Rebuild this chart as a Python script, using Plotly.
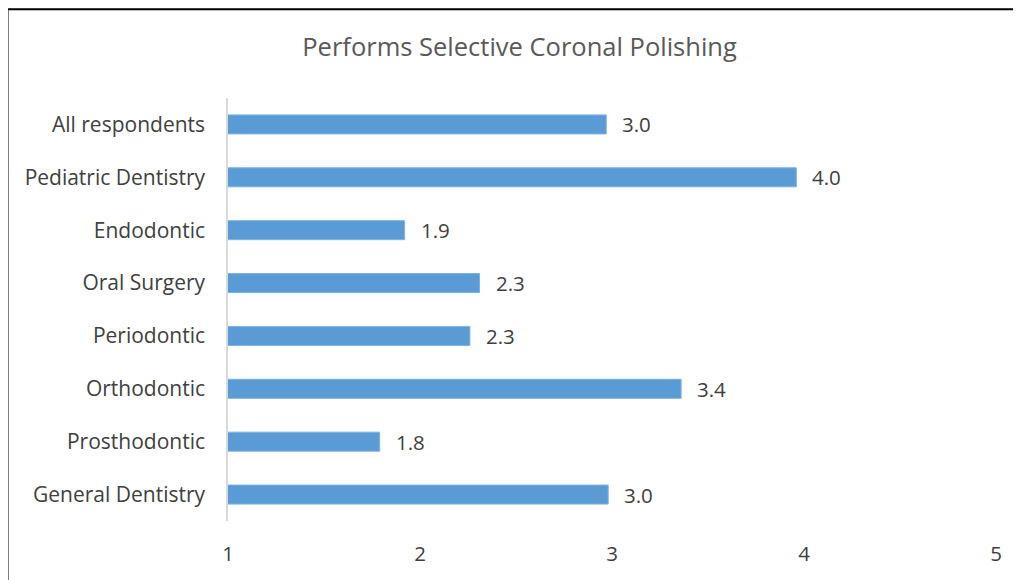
import plotly.graph_objects as go

categories = ["All respondents", "Pediatric Dentistry", "Endodontic", "Oral Surgery",
              "Periodontic", "Orthodontic", "Prosthodontic", "General Dentistry"]
values = [2.97, 3.96, 1.92, 2.31, 2.26, 3.36, 1.79, 2.98]
labels = ["3.0", "4.0", "1.9", "2.3", "2.3", "3.4", "1.8", "3.0"]
x_ticks = [1, 2, 3, 4, 5]
title = "Performs Selective Coronal Polishing"

FONT = "Open Sans, Lato, Liberation Sans, sans-serif"
W, H = 1021, 580
# page body has an 8px margin, so the figure is laid out 8px up/left
L, T = 220, 89.5
pw, ph = 768, 424
R, B = W - L - pw, H - T - ph

fig = go.Figure()
fig.add_trace(go.Bar(
    x=values, y=categories, orientation="h",
    marker=dict(color="#5B9BD5", line=dict(color="#7FB2E0", width=1)),
    hoverinfo="x+y",
))

for c, v, t in zip(categories, values, labels):
    fig.add_annotation(x=v, y=c, text=t, showarrow=False, xanchor="left",
                       xshift=14, font=dict(family=FONT, size=20.5, color="#404040"))

def px_x(p):
    return (p - L) / pw

def px_y(p):
    return (H - B - p) / ph

fig.add_shape(type="rect", xref="paper", yref="paper",
              x0=px_x(-0.5), x1=px_x(1060), y0=px_y(620), y1=px_y(0.5),
              line=dict(color="black", width=2), fillcolor="rgba(0,0,0,0)", layer="above")

fig.update_layout(
    width=W, height=H,
    margin=dict(l=L, r=R, t=T, b=B, autoexpand=False),
    paper_bgcolor="white", plot_bgcolor="white",
    bargap=0.64, showlegend=False,
    title=dict(text=title, x=0.501, xanchor="center", y=1 - 39 / H, yanchor="middle",
               font=dict(family=FONT, size=25.5, color="#595959")),
    font=dict(family=FONT, color="#404040"),
)
fig.update_xaxes(range=[1, 5], tickvals=x_ticks, showgrid=False, zeroline=False,
                 showline=False, ticks="", ticklabelstandoff=18,
                 tickfont=dict(family=FONT, size=20.5, color="#404040"))
fig.update_yaxes(categoryorder="array", categoryarray=categories[::-1],
                 showgrid=False, zeroline=False, showline=True, linecolor="#D9D9D9",
                 linewidth=1.5, ticks="", ticklabelstandoff=17,
                 tickfont=dict(family=FONT, size=21, color="#404040"))

fig.write_html("out.html")
